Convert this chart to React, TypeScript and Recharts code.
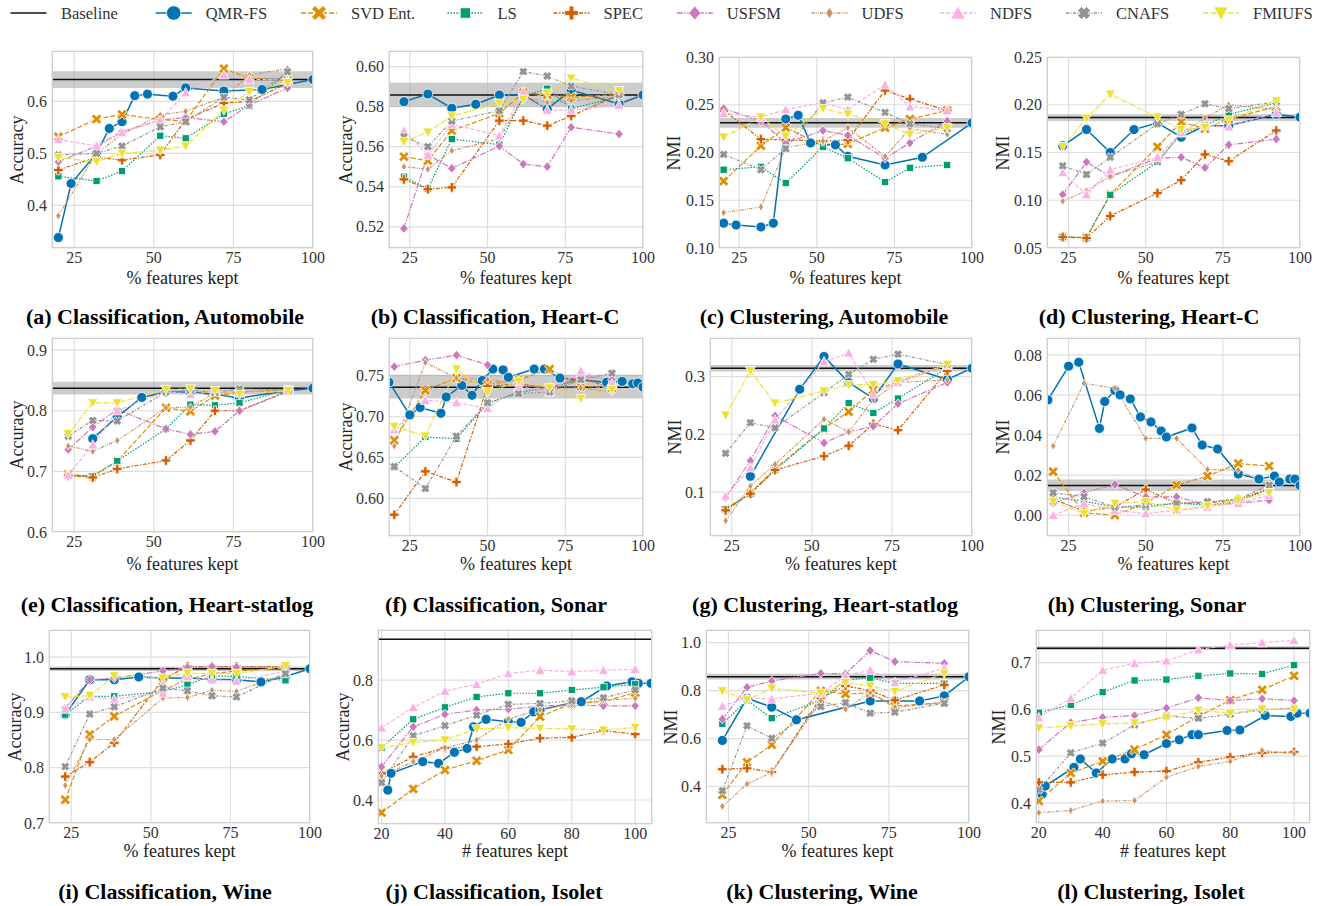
import React from 'react';
import { LineChart, Line, XAxis, YAxis, CartesianGrid, ReferenceLine, ReferenceArea } from 'recharts';

const FONT = "'Liberation Serif', 'DejaVu Serif', serif";

// series order as in the legend
const KEYS = ['QMR', 'SVD', 'LS', 'SPEC', 'USFSM', 'UDFS', 'NDFS', 'CNAFS', 'FMIUFS'];
const NAMES = ['QMR-FS', 'SVD Ent.', 'LS', 'SPEC', 'USFSM', 'UDFS', 'NDFS', 'CNAFS', 'FMIUFS'];
const COLORS = ['#0173b2', '#de8f05', '#029e73', '#d55e00', '#cc78bc', '#ca9161', '#fbafe4', '#949494', '#ece133'];
const DASHES = ['', '5 2', '1.5 1.5', '4 1.5 1.5 1.5', '6 1.5 1.5 1.5', '3 1.2 1 1.2 1 1.2', '4 1.8', '3 1.5 1 1.5', '5 1.2 1 1.2'];
const MARKS = ['o', 'X', 's', 'P', 'D', 'd', '^', 'x', 'v'];

const PCT_TICKS = [25, 50, 75, 100];
const NUM_TICKS = [20, 40, 60, 80, 100];

// (a) Classification, Automobile
const A_X = [20, 32, 40, 52, 60, 72, 80, 92];
const A_QMR_X = [20, 24, 32, 36, 40, 44, 48, 56, 60, 72, 84, 100];
const A_QMR = [0.338, 0.442, 0.5, 0.548, 0.561, 0.611, 0.614, 0.61, 0.626, 0.62, 0.623, 0.642];
const A_SVD = [0.532, 0.566, 0.575, 0.565, 0.562, 0.663, 0.645, 0.64];
const A_LS = [0.456, 0.447, 0.466, 0.534, 0.529, 0.576, 0.592, 0.657];
const A_SPEC = [0.468, 0.493, 0.487, 0.497, 0.565, 0.597, 0.6, 0.635];
const A_USFSM = [0.484, 0.514, 0.542, 0.564, 0.569, 0.561, 0.593, 0.626];
const A_UDFS = [0.38, 0.5, 0.537, 0.574, 0.581, 0.608, 0.651, 0.663];
const A_NDFS = [0.527, 0.514, 0.54, 0.564, 0.617, 0.651, 0.642, 0.642];
const A_CNAFS = [0.497, 0.5, 0.514, 0.551, 0.561, 0.608, 0.603, 0.657];
const A_FMIUFS = [0.492, 0.484, 0.5, 0.506, 0.514, 0.583, 0.619, 0.636];

// (b) Classification, Heart-C
const B_X = [23.1, 30.8, 38.5, 53.8, 61.5, 69.2, 76.9, 92.3];
const B_QMR_X = [23.1, 30.8, 38.5, 46.2, 53.8, 61.5, 69.2, 76.9, 92.3, 100];
const B_QMR = [0.5825, 0.5863, 0.5792, 0.5812, 0.5858, 0.586, 0.5788, 0.5883, 0.5813, 0.5858];
const B_SVD = [0.555, 0.553, 0.568, 0.5767, 0.587, 0.586, 0.5847, 0.586];
const B_LS = [0.545, 0.539, 0.5638, 0.561, 0.585, 0.589, 0.579, 0.585];
const B_SPEC = [0.5437, 0.5388, 0.5397, 0.573, 0.573, 0.5705, 0.5753, 0.586];
const B_USFSM = [0.5192, 0.556, 0.5492, 0.5603, 0.5513, 0.55, 0.5697, 0.5663];
const B_UDFS = [0.55, 0.5487, 0.558, 0.564, 0.585, 0.582, 0.583, 0.585];
const B_NDFS = [0.568, 0.5558, 0.5713, 0.5655, 0.5875, 0.5783, 0.5783, 0.5808];
const B_CNAFS = [0.565, 0.56, 0.5728, 0.578, 0.5975, 0.5953, 0.5903, 0.586];
const B_FMIUFS = [0.5625, 0.5672, 0.5753, 0.5817, 0.5837, 0.5867, 0.5942, 0.588];

// (c) Clustering, Automobile
const C_X = [20, 32, 40, 52, 60, 72, 80, 92];
const C_QMR_X = [20, 24, 32, 36, 40, 44, 48, 56, 60, 72, 84, 100];
const C_QMR = [0.126, 0.124, 0.122, 0.126, 0.235, 0.239, 0.21, 0.208, 0.196, 0.187, 0.195, 0.231];
const C_SVD = [0.17, 0.207, 0.226, 0.207, 0.209, 0.226, 0.235, 0.244];
const C_LS = [0.182, 0.185, 0.168, 0.206, 0.194, 0.169, 0.184, 0.187];
const C_SPEC = [0.244, 0.214, 0.213, 0.212, 0.213, 0.265, 0.256, 0.244];
const C_USFSM = [0.246, 0.233, 0.21, 0.223, 0.218, 0.194, 0.21, 0.233];
const C_UDFS = [0.137, 0.143, 0.205, 0.212, 0.226, 0.196, 0.225, 0.219];
const C_NDFS = [0.241, 0.237, 0.245, 0.252, 0.245, 0.271, 0.248, 0.244];
const C_CNAFS = [0.198, 0.182, 0.204, 0.252, 0.258, 0.242, 0.23, 0.225];
const C_FMIUFS = [0.216, 0.237, 0.217, 0.246, 0.24, 0.23, 0.219, 0.226];

// (d) Clustering, Heart-C
const D_X = [23.1, 30.8, 38.5, 53.8, 61.5, 69.2, 76.9, 92.3];
const D_QMR_X = [23.1, 30.8, 38.5, 46.2, 53.8, 61.5, 69.2, 76.9, 92.3, 100];
const D_QMR = [0.157, 0.174, 0.15, 0.174, 0.181, 0.166, 0.178, 0.178, 0.19, 0.187];
const D_SVD = [0.0615, 0.061, 0.106, 0.156, 0.182, 0.175, 0.185, 0.198];
const D_LS = [0.0615, 0.061, 0.1057, 0.14, 0.17, 0.178, 0.19, 0.202];
const D_SPEC = [0.0615, 0.0604, 0.0835, 0.1075, 0.121, 0.148, 0.141, 0.173];
const D_USFSM = [0.106, 0.14, 0.125, 0.144, 0.145, 0.134, 0.158, 0.164];
const D_UDFS = [0.099, 0.11, 0.125, 0.14, 0.17, 0.186, 0.2, 0.195];
const D_NDFS = [0.129, 0.106, 0.132, 0.145, 0.171, 0.178, 0.177, 0.192];
const D_CNAFS = [0.136, 0.127, 0.145, 0.18, 0.19, 0.201, 0.196, 0.203];
const D_FMIUFS = [0.156, 0.186, 0.211, 0.187, 0.174, 0.176, 0.184, 0.204];

// (e) Classification, Heart-statlog
const E_X = [23.1, 30.8, 38.5, 53.8, 61.5, 69.2, 76.9, 92.3];
const E_QMR_X = [30.8, 38.5, 46.2, 53.8, 61.5, 69.2, 76.9, 92.3, 100];
const E_QMR = [0.754, 0.79, 0.822, 0.831, 0.831, 0.827, 0.821, 0.833, 0.837];
const E_SVD = [0.695, 0.692, 0.717, 0.805, 0.799, 0.825, 0.83, 0.835];
const E_LS = [0.693, 0.692, 0.717, 0.77, 0.81, 0.809, 0.813, 0.835];
const E_SPEC = [0.693, 0.69, 0.704, 0.718, 0.751, 0.8, 0.8, 0.833];
const E_USFSM = [0.736, 0.773, 0.802, 0.77, 0.761, 0.766, 0.8, 0.832];
const E_UDFS = [0.742, 0.733, 0.751, 0.805, 0.806, 0.83, 0.83, 0.835];
const E_NDFS = [0.694, 0.744, 0.8, 0.832, 0.827, 0.832, 0.83, 0.832];
const E_CNAFS = [0.758, 0.784, 0.783, 0.831, 0.834, 0.83, 0.836, 0.834];
const E_FMIUFS = [0.762, 0.813, 0.813, 0.835, 0.836, 0.833, 0.827, 0.833];

// (f) Classification, Sonar
const F_X = [20, 30, 40, 50, 60, 70, 80, 90];
const F_QMR_X = [18.3, 25, 28.3, 35, 36.7, 41.7, 45, 48.3, 51.7, 55, 56.7, 65, 68.3, 73.3, 88.3, 93.3, 96.7, 98.3, 100];
const F_QMR = [0.742, 0.702, 0.711, 0.704, 0.724, 0.738, 0.726, 0.744, 0.758, 0.757, 0.748, 0.758, 0.758, 0.747, 0.742, 0.743, 0.74, 0.741, 0.736];
const F_SVD = [0.671, 0.732, 0.747, 0.739, 0.745, 0.758, 0.737, 0.735];
const F_LS = [0.638, 0.675, 0.673, 0.716, 0.73, 0.735, 0.745, 0.74];
const F_SPEC = [0.58, 0.633, 0.62, 0.737, 0.74, 0.735, 0.747, 0.735];
const F_USFSM = [0.761, 0.769, 0.775, 0.763, 0.74, 0.733, 0.75, 0.745];
const F_UDFS = [0.664, 0.766, 0.747, 0.745, 0.74, 0.735, 0.735, 0.73];
const F_NDFS = [0.684, 0.72, 0.717, 0.71, 0.737, 0.73, 0.756, 0.74];
const F_CNAFS = [0.639, 0.612, 0.676, 0.717, 0.728, 0.73, 0.745, 0.753];
const F_FMIUFS = [0.688, 0.676, 0.758, 0.73, 0.743, 0.735, 0.722, 0.733];

// (g) Clustering, Heart-statlog
const G_X = [23.1, 30.8, 38.5, 53.8, 61.5, 69.2, 76.9, 92.3];
const G_QMR_X = [30.8, 46.2, 53.8, 61.5, 69.2, 76.9, 92.3, 100];
const G_QMR = [0.127, 0.278, 0.335, 0.29, 0.262, 0.322, 0.295, 0.3145];
const G_SVD = [0.07, 0.098, 0.14, 0.21, 0.239, 0.277, 0.29, 0.32];
const G_LS = [0.07, 0.097, 0.138, 0.21, 0.254, 0.237, 0.262, 0.315];
const G_SPEC = [0.068, 0.097, 0.138, 0.162, 0.18, 0.218, 0.207, 0.31];
const G_USFSM = [0.09, 0.154, 0.232, 0.185, 0.204, 0.214, 0.253, 0.29];
const G_UDFS = [0.05, 0.11, 0.148, 0.226, 0.204, 0.26, 0.29, 0.294];
const G_NDFS = [0.093, 0.142, 0.225, 0.326, 0.341, 0.27, 0.29, 0.32];
const G_CNAFS = [0.167, 0.22, 0.211, 0.272, 0.304, 0.33, 0.339, 0.321];
const G_FMIUFS = [0.233, 0.31, 0.254, 0.275, 0.286, 0.286, 0.293, 0.321];

// (h) Clustering, Sonar
const H_X = [20, 30, 40, 50, 60, 70, 80, 90];
const H_QMR_X = [18.3, 25, 28.3, 35, 36.7, 40, 41.7, 45, 48.3, 51.7, 55, 56.7, 65, 68.3, 73.3, 80, 86.7, 91.7, 93.3, 96.7, 98.3, 100];
const H_QMR = [0.0575, 0.0743, 0.0763, 0.0433, 0.0567, 0.0622, 0.06, 0.058, 0.049, 0.0465, 0.042, 0.039, 0.0435, 0.035, 0.033, 0.0205, 0.018, 0.0195, 0.0165, 0.018, 0.018, 0.0148];
const H_SVD = [0.0217, 0.0012, 0.0, 0.006, 0.015, 0.0195, 0.0258, 0.0245];
const H_LS = [0.009, 0.007, 0.004, 0.004, 0.006, 0.005, 0.007, 0.013];
const H_SPEC = [0.008, 0.002, 0.004, 0.0128, 0.006, 0.006, 0.008, 0.013];
const H_USFSM = [0.006, 0.0112, 0.0153, 0.009, 0.0092, 0.005, 0.006, 0.0075];
const H_UDFS = [0.0345, 0.0658, 0.0633, 0.0383, 0.0383, 0.0228, 0.0225, 0.015];
const H_NDFS = [0.0, 0.0058, 0.0025, 0.0008, 0.0025, 0.004, 0.006, 0.01];
const H_CNAFS = [0.0112, 0.0092, 0.004, 0.005, 0.0058, 0.0067, 0.008, 0.015];
const H_FMIUFS = [0.0067, 0.0008, 0.0058, 0.0067, 0.0025, 0.0045, 0.0075, 0.0112];

// (i) Classification, Wine
const I_X = [23.1, 30.8, 38.5, 53.8, 61.5, 69.2, 76.9, 92.3];
const I_QMR_X = [23.1, 30.8, 38.5, 46.2, 53.8, 61.5, 69.2, 76.9, 84.6, 92.3, 100];
const I_QMR = [0.896, 0.959, 0.959, 0.964, 0.962, 0.962, 0.96, 0.959, 0.955, 0.965, 0.979];
const I_SVD = [0.742, 0.86, 0.893, 0.94, 0.96, 0.97, 0.975, 0.98];
const I_LS = [0.896, 0.929, 0.929, 0.938, 0.95, 0.966, 0.965, 0.958];
const I_SPEC = [0.784, 0.81, 0.845, 0.96, 0.983, 0.983, 0.983, 0.983];
const I_USFSM = [0.908, 0.959, 0.962, 0.975, 0.981, 0.983, 0.982, 0.982];
const I_UDFS = [0.768, 0.851, 0.851, 0.926, 0.927, 0.94, 0.938, 0.97];
const I_NDFS = [0.906, 0.928, 0.924, 0.935, 0.965, 0.959, 0.957, 0.974];
const I_CNAFS = [0.802, 0.897, 0.91, 0.944, 0.939, 0.93, 0.928, 0.97];
const I_FMIUFS = [0.928, 0.93, 0.966, 0.962, 0.971, 0.97, 0.97, 0.984];

// (j) Classification, Isolet
const J_X = [20, 30, 40, 50, 60, 70, 80, 90, 100];
const J_QMR_X = [22, 23, 33, 38, 43, 47, 49, 53, 60, 64, 68, 70, 80, 83, 91, 99, 101, 105];
const J_QMR = [0.433, 0.489, 0.528, 0.522, 0.559, 0.572, 0.644, 0.669, 0.661, 0.659, 0.694, 0.7, 0.724, 0.728, 0.78, 0.794, 0.789, 0.789];
const J_SVD = [0.358, 0.437, 0.5, 0.531, 0.567, 0.678, 0.722, 0.728, 0.758];
const J_LS = [0.574, 0.669, 0.709, 0.744, 0.756, 0.756, 0.767, 0.776, 0.786];
const J_SPEC = [0.489, 0.544, 0.574, 0.578, 0.587, 0.606, 0.609, 0.631, 0.62];
const J_USFSM = [0.511, 0.644, 0.686, 0.7, 0.703, 0.713, 0.717, 0.714, 0.714];
const J_UDFS = [0.48, 0.528, 0.574, 0.6, 0.67, 0.702, 0.72, 0.733, 0.739];
const J_NDFS = [0.641, 0.709, 0.763, 0.786, 0.822, 0.833, 0.828, 0.833, 0.836];
const J_CNAFS = [0.458, 0.614, 0.648, 0.683, 0.719, 0.722, 0.731, 0.741, 0.767];
const J_FMIUFS = [0.574, 0.592, 0.6, 0.637, 0.641, 0.639, 0.637, 0.633, 0.642];

// (k) Clustering, Wine
const K_X = [23.1, 30.8, 38.5, 53.8, 61.5, 69.2, 76.9, 92.3];
const K_QMR_X = [23.1, 30.8, 38.5, 46.2, 69.2, 76.9, 84.6, 92.3, 100];
const K_QMR = [0.592, 0.768, 0.731, 0.678, 0.757, 0.757, 0.757, 0.778, 0.858];
const K_SVD = [0.365, 0.501, 0.574, 0.799, 0.786, 0.79, 0.736, 0.75];
const K_LS = [0.661, 0.76, 0.685, 0.76, 0.844, 0.854, 0.83, 0.83];
const K_SPEC = [0.472, 0.476, 0.46, 0.77, 0.82, 0.8, 0.76, 0.824];
const K_USFSM = [0.681, 0.814, 0.84, 0.872, 0.87, 0.967, 0.921, 0.914];
const K_UDFS = [0.317, 0.41, 0.458, 0.758, 0.722, 0.792, 0.73, 0.75];
const K_NDFS = [0.736, 0.77, 0.765, 0.79, 0.861, 0.886, 0.835, 0.893];
const K_CNAFS = [0.382, 0.653, 0.601, 0.733, 0.75, 0.706, 0.71, 0.747];
const K_FMIUFS = [0.799, 0.761, 0.81, 0.789, 0.833, 0.819, 0.796, 0.872];

// (l) Clustering, Isolet
const L_X = [20, 30, 40, 50, 60, 70, 80, 90, 100];
const L_QMR_X = [21, 22, 31, 33, 38, 43, 47, 49, 53, 60, 64, 68, 70, 79, 83, 91, 99, 101, 105];
const L_QMR = [0.418, 0.436, 0.476, 0.494, 0.464, 0.494, 0.494, 0.505, 0.503, 0.527, 0.535, 0.546, 0.546, 0.555, 0.556, 0.587, 0.585, 0.592, 0.592];
const L_SVD = [0.404, 0.464, 0.489, 0.514, 0.546, 0.585, 0.62, 0.642, 0.672];
const L_LS = [0.593, 0.61, 0.637, 0.662, 0.664, 0.672, 0.677, 0.676, 0.695];
const L_SPEC = [0.444, 0.444, 0.46, 0.466, 0.468, 0.487, 0.498, 0.507, 0.509];
const L_USFSM = [0.514, 0.572, 0.583, 0.587, 0.603, 0.625, 0.619, 0.623, 0.619];
const L_UDFS = [0.379, 0.384, 0.404, 0.405, 0.455, 0.478, 0.489, 0.512, 0.505];
const L_NDFS = [0.583, 0.624, 0.684, 0.699, 0.704, 0.728, 0.738, 0.743, 0.748];
const L_CNAFS = [0.428, 0.507, 0.528, 0.567, 0.586, 0.581, 0.59, 0.599, 0.603];
const L_FMIUFS = [0.56, 0.565, 0.569, 0.571, 0.583, 0.598, 0.592, 0.601, 0.6];

// baselines (all features) and their bands, panels a..l
const BASELINE = [0.642, 0.5858, 0.2311, 0.1867, 0.8373, 0.7357, 0.3145, 0.0148, 0.979, 0.936, 0.858, 0.731];
const BAND_LO = [0.626, 0.58, 0.226, 0.183, 0.827, 0.722, 0.309, 0.012, 0.975, 0.934, 0.846, 0.727];
const BAND_HI = [0.658, 0.592, 0.236, 0.19, 0.848, 0.751, 0.32, 0.0178, 0.983, 0.938, 0.87, 0.735];

const PANELS = [
  { title: '(a) Classification, Automobile', yl: 'Accuracy', xl: '% features kept', x: A_X, qx: A_QMR_X,
    ys: [A_QMR, A_SVD, A_LS, A_SPEC, A_USFSM, A_UDFS, A_NDFS, A_CNAFS, A_FMIUFS],
    xd: [18, 100], yd: [0.318, 0.697], xt: PCT_TICKS, yt: [0.4, 0.5, 0.6], dec: 1,
    box: [52, 51, 313, 248], ylx: 17, xly: 278, tx: 165, ty: 317 },
  { title: '(b) Classification, Heart-C', yl: 'Accuracy', xl: '% features kept', x: B_X, qx: B_QMR_X,
    ys: [B_QMR, B_SVD, B_LS, B_SPEC, B_USFSM, B_UDFS, B_NDFS, B_CNAFS, B_FMIUFS],
    xd: [18.3, 100], yd: [0.5094, 0.6078], xt: PCT_TICKS, yt: [0.52, 0.54, 0.56, 0.58, 0.6], dec: 2,
    box: [389, 51, 643, 248], ylx: 346, xly: 278, tx: 495, ty: 317 },
  { title: '(c) Clustering, Automobile', yl: 'NMI', xl: '% features kept', x: C_X, qx: C_QMR_X,
    ys: [C_QMR, C_SVD, C_LS, C_SPEC, C_USFSM, C_UDFS, C_NDFS, C_CNAFS, C_FMIUFS],
    xd: [18.5, 100], yd: [0.1, 0.3], xt: PCT_TICKS, yt: [0.1, 0.15, 0.2, 0.25, 0.3], dec: 2,
    box: [719, 57, 972, 248], ylx: 674, xly: 278, tx: 824, ty: 317 },
  { title: '(d) Clustering, Heart-C', yl: 'NMI', xl: '% features kept', x: D_X, qx: D_QMR_X,
    ys: [D_QMR, D_SVD, D_LS, D_SPEC, D_USFSM, D_UDFS, D_NDFS, D_CNAFS, D_FMIUFS],
    xd: [18, 100], yd: [0.05, 0.25], xt: PCT_TICKS, yt: [0.05, 0.1, 0.15, 0.2, 0.25], dec: 2,
    box: [1047, 57, 1300, 248], ylx: 1003, xly: 278, tx: 1149, ty: 317 },
  { title: '(e) Classification, Heart-statlog', yl: 'Accuracy', xl: '% features kept', x: E_X, qx: E_QMR_X,
    ys: [E_QMR, E_SVD, E_LS, E_SPEC, E_USFSM, E_UDFS, E_NDFS, E_CNAFS, E_FMIUFS],
    xd: [18, 100], yd: [0.6, 0.92], xt: PCT_TICKS, yt: [0.6, 0.7, 0.8, 0.9], dec: 1,
    box: [52, 338, 313, 532], ylx: 17, xly: 564, tx: 167, ty: 605 },
  { title: '(f) Classification, Sonar', yl: 'Accuracy', xl: '% features kept', x: F_X, qx: F_QMR_X,
    ys: [F_QMR, F_SVD, F_LS, F_SPEC, F_USFSM, F_UDFS, F_NDFS, F_CNAFS, F_FMIUFS],
    xd: [18.3, 100], yd: [0.554, 0.796], xt: PCT_TICKS, yt: [0.6, 0.65, 0.7, 0.75], dec: 2,
    box: [389, 338, 643, 536], ylx: 346, xly: 564, tx: 496, ty: 605 },
  { title: '(g) Clustering, Heart-statlog', yl: 'NMI', xl: '% features kept', x: G_X, qx: G_QMR_X,
    ys: [G_QMR, G_SVD, G_LS, G_SPEC, G_USFSM, G_UDFS, G_NDFS, G_CNAFS, G_FMIUFS],
    xd: [18.2, 100], yd: [0.0235, 0.367], xt: PCT_TICKS, yt: [0.1, 0.2, 0.3], dec: 1,
    box: [710, 338, 972, 536], ylx: 675, xly: 564, tx: 825, ty: 605 },
  { title: '(h) Clustering, Sonar', yl: 'NMI', xl: '% features kept', x: H_X, qx: H_QMR_X,
    ys: [H_QMR, H_SVD, H_LS, H_SPEC, H_USFSM, H_UDFS, H_NDFS, H_CNAFS, H_FMIUFS],
    xd: [18, 100], yd: [-0.0104, 0.0884], xt: PCT_TICKS, yt: [0, 0.02, 0.04, 0.06, 0.08], dec: 2,
    box: [1047, 338, 1300, 536], ylx: 1003, xly: 564, tx: 1147, ty: 605 },
  { title: '(i) Classification, Wine', yl: 'Accuracy', xl: '% features kept', x: I_X, qx: I_QMR_X,
    ys: [I_QMR, I_SVD, I_LS, I_SPEC, I_USFSM, I_UDFS, I_NDFS, I_CNAFS, I_FMIUFS],
    xd: [18, 100], yd: [0.7, 1.049], xt: PCT_TICKS, yt: [0.7, 0.8, 0.9, 1.0], dec: 1,
    box: [49, 630, 310, 823], ylx: 15, xly: 851, tx: 165, ty: 892 },
  { title: '(j) Classification, Isolet', yl: 'Accuracy', xl: '# features kept', x: J_X, qx: J_QMR_X,
    ys: [J_QMR, J_SVD, J_LS, J_SPEC, J_USFSM, J_UDFS, J_NDFS, J_CNAFS, J_FMIUFS],
    xd: [18.9, 105.3], yd: [0.32, 0.967], xt: NUM_TICKS, yt: [0.4, 0.6, 0.8], dec: 1,
    box: [378, 630, 652, 824], ylx: 343, xly: 851, tx: 494, ty: 892 },
  { title: '(k) Clustering, Wine', yl: 'NMI', xl: '% features kept', x: K_X, qx: K_QMR_X,
    ys: [K_QMR, K_SVD, K_LS, K_SPEC, K_USFSM, K_UDFS, K_NDFS, K_CNAFS, K_FMIUFS],
    xd: [18, 100], yd: [0.2475, 1.053], xt: PCT_TICKS, yt: [0.4, 0.6, 0.8, 1.0], dec: 1,
    box: [706, 630, 969, 823], ylx: 671, xly: 851, tx: 822, ty: 892 },
  { title: '(l) Clustering, Isolet', yl: 'NMI', xl: '# features kept', x: L_X, qx: L_QMR_X,
    ys: [L_QMR, L_SVD, L_LS, L_SPEC, L_USFSM, L_UDFS, L_NDFS, L_CNAFS, L_FMIUFS],
    xd: [19.1, 105], yd: [0.357, 0.77], xt: NUM_TICKS, yt: [0.4, 0.5, 0.6, 0.7], dec: 1,
    box: [1036, 630, 1310, 823], ylx: 999, xly: 851, tx: 1151, ty: 892 },
];

// plus-shaped polygon, used for 'P' and (rotated) for 'X'
const plus = (h: number, t: number) =>
  [[-t, -h], [t, -h], [t, -t], [h, -t], [h, t], [t, t], [t, h], [-t, h], [-t, t], [-h, t], [-h, -t], [-t, -t]]
    .map((p) => p.join(',')).join(' ');

function Mark({ kind, x, y, k, c }: { kind: string; x: number; y: number; k: number; c: string }) {
  const st = { fill: c, stroke: '#fff', strokeWidth: 0.8 };
  const tr = `translate(${x},${y})`;
  switch (kind) {
    case 'o':
      return <circle cx={x} cy={y} r={5 * k} {...st} />;
    case 'X':
      return <polygon points={plus(5.6 * k, 1.7 * k)} transform={`${tr} rotate(45)`} {...st} />;
    case 's':
      return <rect x={x - 3.6 * k} y={y - 3.6 * k} width={7.2 * k} height={7.2 * k} {...st} />;
    case 'P':
      return <polygon points={plus(4.8 * k, 1.6 * k)} transform={tr} {...st} />;
    case 'D':
      return <polygon points={`0,${-4.8 * k} ${4.2 * k},0 0,${4.8 * k} ${-4.2 * k},0`} transform={tr} {...st} />;
    case 'd':
      return <polygon points={`0,${-4 * k} ${2.6 * k},0 0,${4 * k} ${-2.6 * k},0`} transform={tr} {...st} />;
    case '^':
      return <polygon points={`0,${-5 * k} ${5 * k},${4.2 * k} ${-5 * k},${4.2 * k}`} transform={tr} {...st} />;
    case 'v':
      return <polygon points={`0,${5 * k} ${5 * k},${-4.2 * k} ${-5 * k},${-4.2 * k}`} transform={tr} {...st} />;
    default:
      return <polygon points={plus(4.4 * k, 1.9 * k)} transform={`${tr} rotate(45)`} {...st} />;
  }
}

const tickStyle = { fontSize: 16, fill: '#333', fontFamily: FONT };

function Panel({ p, n }: { p: any; n: number }) {
  const [L, T, R, B] = p.box;
  const w = R - L;
  const h = B - T;
  return (
    <>
      <div style={{ position: 'absolute', left: L - 60, top: T - 10 }}>
        <LineChart width={w + 85} height={h + 60} margin={{ top: 10, right: 25, bottom: 0, left: 0 }}>
          <CartesianGrid stroke="#dedede" strokeWidth={1.2} />
          <XAxis type="number" dataKey="x" domain={p.xd} ticks={p.xt} allowDataOverflow interval={0}
            height={50} tickLine={false} axisLine={false} tickSize={0} tickMargin={4} tick={tickStyle} />
          <YAxis type="number" domain={p.yd} ticks={p.yt} allowDataOverflow interval={0} width={60}
            tickLine={false} axisLine={false} tickSize={0} tickMargin={5} tick={tickStyle}
            tickFormatter={(v: number) => v.toFixed(p.dec)} />
          <ReferenceArea y1={BAND_LO[n]} y2={BAND_HI[n]} fill="#9a9a9a" fillOpacity={0.5} stroke="none" ifOverflow="hidden" />
          <ReferenceLine y={BASELINE[n]} stroke="#111" strokeWidth={1.5} />
          {KEYS.map((key, i) => {
            const xs = i === 0 ? p.qx : p.x;
            const data = xs.map((x: number, j: number) => ({ x, y: p.ys[i][j] }));
            return (
              <Line key={key} data={data} dataKey="y" stroke={COLORS[i]} strokeWidth={i === 0 ? 1.5 : 1.2}
                strokeDasharray={DASHES[i]} isAnimationActive={false} activeDot={false}
                dot={(d: any) => <Mark key={`${key}-${d.index}`} kind={MARKS[i]} x={d.cx} y={d.cy} k={1} c={COLORS[i]} />} />
            );
          })}
        </LineChart>
      </div>
      <div style={{ position: 'absolute', left: L, top: T, width: w, height: h, boxSizing: 'border-box',
        border: '1px solid #cfcfcf', pointerEvents: 'none' }} />
      <div style={{ position: 'absolute', left: p.ylx, top: (T + B) / 2, transform: 'translate(-50%,-50%) rotate(-90deg)',
        fontFamily: FONT, fontSize: 18, lineHeight: 1, color: '#222', whiteSpace: 'nowrap' }}>{p.yl}</div>
      <div style={{ position: 'absolute', left: (L + R) / 2, top: p.xly, transform: 'translate(-50%,-50%)',
        fontFamily: FONT, fontSize: 18, lineHeight: 1, color: '#222', whiteSpace: 'nowrap' }}>{p.xl}</div>
      <div style={{ position: 'absolute', left: p.tx, top: p.ty, transform: 'translate(-50%,-50%)',
        fontFamily: FONT, fontSize: 22, fontWeight: 'bold', lineHeight: 1, color: '#000', whiteSpace: 'nowrap' }}>{p.title}</div>
    </>
  );
}

const LEG_X = [155.7, 301, 447.4, 553.5, 676.8, 811.5, 940, 1066, 1203];

function Legend() {
  return (
    <svg width={1319} height={28} style={{ position: 'absolute', left: 0, top: 0 }}>
      <line x1={10.5} x2={46.5} y1={13} y2={13} stroke="#111" strokeWidth={1.5} />
      <text x={61} y={13} dominantBaseline="central" fontFamily={FONT} fontSize={16.5} fill="#333">Baseline</text>
      {KEYS.map((key, i) => (
        <g key={key}>
          <line x1={LEG_X[i]} x2={LEG_X[i] + 36} y1={13} y2={13} stroke={COLORS[i]} strokeWidth={1.5} strokeDasharray={DASHES[i]} />
          <Mark kind={MARKS[i]} x={LEG_X[i] + 18} y={13} k={1.45} c={COLORS[i]} />
          <text x={LEG_X[i] + 50} y={13} dominantBaseline="central" fontFamily={FONT} fontSize={16.5} fill="#333">{NAMES[i]}</text>
        </g>
      ))}
    </svg>
  );
}

export default function App() {
  return (
    <div style={{ position: 'absolute', left: 0, top: 0, width: 1319, height: 906, background: '#fff', overflow: 'hidden' }}>
      <Legend />
      {PANELS.map((p, n) => <Panel key={n} p={p} n={n} />)}
    </div>
  );
}
